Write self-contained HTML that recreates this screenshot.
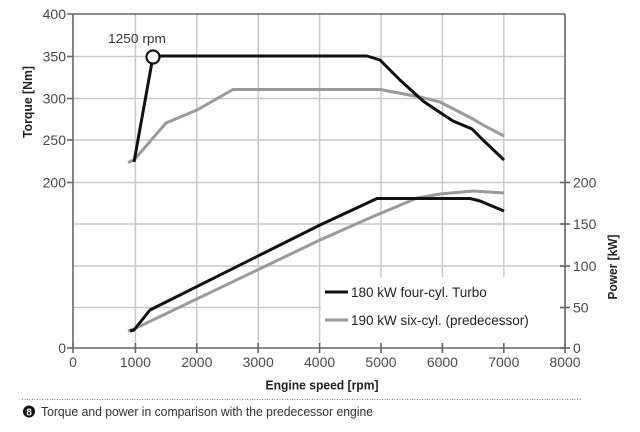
<!DOCTYPE html>
<html><head><meta charset="utf-8"><style>
html,body{margin:0;padding:0;background:#fff;}
svg{display:block;}
text{font-family:"Liberation Sans",sans-serif;}
</style></head><body>
<svg width="640" height="432" viewBox="0 0 640 432" xmlns="http://www.w3.org/2000/svg">
<rect width="640" height="432" fill="#fff"/>
<!-- grid -->
<g stroke="#c9c9c9" stroke-width="1.5" fill="none">
<line x1="73" y1="56.5" x2="565" y2="56.5"/>
<line x1="73" y1="98.5" x2="565" y2="98.5"/>
<line x1="73" y1="140" x2="565" y2="140"/>
<line x1="73" y1="182.5" x2="565" y2="182.5"/>
<line x1="73" y1="224" x2="565" y2="224"/>
<line x1="73" y1="266" x2="565" y2="266"/>
<line x1="73" y1="307.5" x2="565" y2="307.5"/>
<line x1="135.4" y1="14" x2="135.4" y2="348"/>
<line x1="196.8" y1="14" x2="196.8" y2="348"/>
<line x1="258.2" y1="14" x2="258.2" y2="348"/>
<line x1="319.6" y1="14" x2="319.6" y2="348"/>
<line x1="381" y1="14" x2="381" y2="348"/>
<line x1="442.4" y1="14" x2="442.4" y2="348"/>
<line x1="503.8" y1="14" x2="503.8" y2="348"/>
</g>
<!-- legend background -->
<rect x="321" y="277" width="242" height="66" fill="#fff"/>
<!-- axes -->
<g stroke="#666" stroke-width="1.6" fill="none">
<line x1="73" y1="14" x2="565" y2="14"/>
<line x1="73" y1="14" x2="73" y2="348"/>
<line x1="565" y1="14" x2="565" y2="348"/>
<line x1="73" y1="348" x2="565" y2="348"/>
<!-- left ticks -->
<line x1="67" y1="14" x2="73" y2="14"/>
<line x1="67" y1="56.5" x2="73" y2="56.5"/>
<line x1="67" y1="98.5" x2="73" y2="98.5"/>
<line x1="67" y1="140" x2="73" y2="140"/>
<line x1="67" y1="182.5" x2="73" y2="182.5"/>
<line x1="67" y1="348" x2="73" y2="348"/>
<!-- right ticks -->
<line x1="560" y1="182.5" x2="570" y2="182.5"/>
<line x1="560" y1="224" x2="570" y2="224"/>
<line x1="560" y1="266" x2="570" y2="266"/>
<line x1="560" y1="307.5" x2="570" y2="307.5"/>
<line x1="560" y1="348" x2="570" y2="348"/>
<!-- bottom ticks -->
<line x1="73" y1="343" x2="73" y2="353"/>
<line x1="135.4" y1="343" x2="135.4" y2="353"/>
<line x1="196.8" y1="343" x2="196.8" y2="353"/>
<line x1="258.2" y1="343" x2="258.2" y2="353"/>
<line x1="319.6" y1="343" x2="319.6" y2="353"/>
<line x1="381" y1="343" x2="381" y2="353"/>
<line x1="442.4" y1="343" x2="442.4" y2="353"/>
<line x1="503.8" y1="343" x2="503.8" y2="353"/>
<line x1="565" y1="343" x2="565" y2="353"/>
</g>
<!-- tick labels -->
<g font-size="14" fill="#4a4a4a">
<text x="66" y="19" text-anchor="end">400</text>
<text x="66" y="61.5" text-anchor="end">350</text>
<text x="66" y="103.5" text-anchor="end">300</text>
<text x="66" y="145" text-anchor="end">250</text>
<text x="66" y="187.5" text-anchor="end">200</text>
<text x="66" y="353" text-anchor="end">0</text>
<text x="573" y="187.5">200</text>
<text x="573" y="229">150</text>
<text x="573" y="271">100</text>
<text x="573" y="312.5">50</text>
<text x="573" y="353">0</text>
<text x="73" y="367" text-anchor="middle">0</text>
<text x="135.4" y="367" text-anchor="middle">1000</text>
<text x="196.8" y="367" text-anchor="middle">2000</text>
<text x="258.2" y="367" text-anchor="middle">3000</text>
<text x="319.6" y="367" text-anchor="middle">4000</text>
<text x="381" y="367" text-anchor="middle">5000</text>
<text x="442.4" y="367" text-anchor="middle">6000</text>
<text x="503.8" y="367" text-anchor="middle">7000</text>
<text x="565" y="367" text-anchor="middle">8000</text>
</g>
<!-- axis titles -->
<text x="322" y="389.5" text-anchor="middle" font-size="13" font-weight="bold" fill="#222" textLength="113" lengthAdjust="spacingAndGlyphs">Engine speed [rpm]</text>
<text transform="translate(32,102) rotate(-90)" text-anchor="middle" font-size="13" font-weight="bold" fill="#222" textLength="72" lengthAdjust="spacingAndGlyphs">Torque [Nm]</text>
<text transform="translate(617,267) rotate(-90)" text-anchor="middle" font-size="13" font-weight="bold" fill="#222" textLength="65" lengthAdjust="spacingAndGlyphs">Power [kW]</text>
<!-- series: gray -->
<g fill="none" stroke="#9a9a9a" stroke-width="3" stroke-linejoin="round">
<polyline points="128,162.5 134,160 166,123 197,110 233,89.5 380,89.5 420,97 440,102 473,119 483,125 504,136"/>
<polyline points="128,331 134,329 320,240 365,220 417,198 440,194 473,191 504,193"/>
</g>
<!-- series: black -->
<g fill="none" stroke="#111" stroke-width="3" stroke-linejoin="round">
<polyline points="134,162 152,62"/>
<polyline points="158,56 367,56 380,60 400,80 423,101 440,112.5 453,121 472,129 483,140 504,160"/>
<polyline points="130,331 134,330 150,310 320,225 377,198.5 470,198.5 480,201 504,211"/>
</g>
<circle cx="153" cy="57" r="6.5" fill="#fff" stroke="#111" stroke-width="2.2"/>
<text x="137" y="43" text-anchor="middle" font-size="13" fill="#333" textLength="58" lengthAdjust="spacingAndGlyphs">1250 rpm</text>
<!-- legend -->
<line x1="325" y1="292" x2="348" y2="292" stroke="#111" stroke-width="3"/>
<text x="351" y="297" font-size="13.5" fill="#222">180 kW four-cyl. Turbo</text>
<line x1="325" y1="320" x2="348" y2="320" stroke="#9a9a9a" stroke-width="3"/>
<text x="351" y="325" font-size="13.5" fill="#222">190 kW six-cyl. (predecessor)</text>
<!-- caption -->
<line x1="22" y1="399.5" x2="582" y2="399.5" stroke="#888" stroke-width="1" stroke-dasharray="1,1.5"/>
<circle cx="29" cy="411.5" r="6" fill="#111"/>
<text x="29" y="415.5" text-anchor="middle" font-size="10" font-weight="bold" fill="#fff">8</text>
<text x="41" y="416" font-size="12.5" fill="#333" textLength="332" lengthAdjust="spacingAndGlyphs">Torque and power in comparison with the predecessor engine</text>
</svg>
</body></html>
